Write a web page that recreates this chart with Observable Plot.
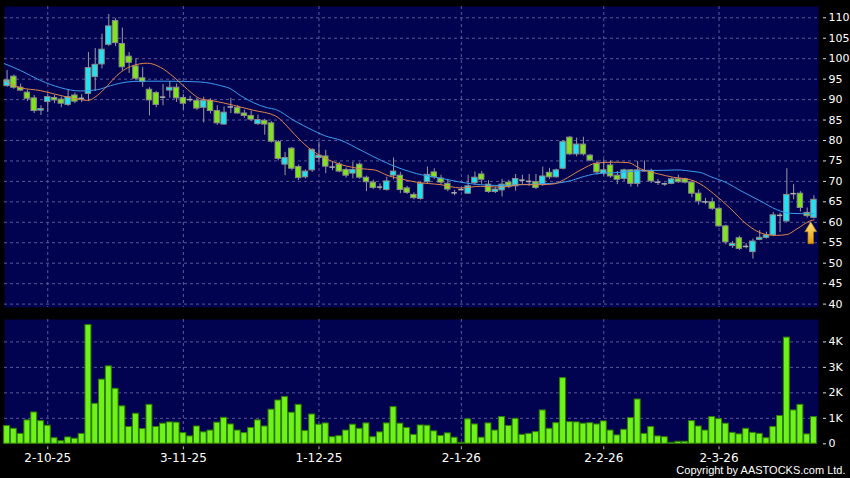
<!DOCTYPE html>
<html><head><meta charset="utf-8">
<script src="https://cdn.jsdelivr.net/npm/d3@7"></script>
<script src="https://cdn.jsdelivr.net/npm/@observablehq/plot@0.6"></script>
<style>
html,body{margin:0;padding:0;background:#000;}
#chart{position:relative;width:850px;height:478px;background:#000;overflow:hidden;}
#chart svg{position:absolute;left:0;}
</style></head><body><div id="chart"></div>
<script>
// ---- data ----
const open = [
 93.3,95.6,92.9,91.7,90.3,87.3,89.4,90.4,90.0,88.7,
 91.0,90.3,91.4,95.5,98.6,103.4,109.2,103.6,100.5,98.1,
 95.2,92.4,91.6,90.6,92.2,92.9,90.4,90.0,89.7,88.0,
 89.7,87.2,83.9,88.2,88.0,86.6,86.0,84.0,84.8,84.2,
 79.6,74.1,78.0,73.5,71.0,72.7,75.7,76.1,73.5,74.1,
 72.8,71.9,74.1,70.9,69.7,68.6,67.9,71.4,71.4,68.3,
 66.7,65.7,69.8,72.2,70.7,69.4,67.2,68.0,67.0,69.6,
 71.7,69.2,67.4,67.8,69.7,68.8,70.3,70.0,69.8,69.2,
 72.1,71.0,73.1,80.7,76.6,79.0,76.3,74.3,71.9,73.9,
 71.4,70.6,72.7,69.4,72.6,72.5,69.8,69.4,69.4,70.5,
 70.5,69.7,67.0,65.0,64.9,63.3,59.0,54.2,56.1,54.1,
 52.7,55.7,56.2,56.8,61.7,60.2,67.0,67.0,62.3,61.1];
const high = [
 97.1,96.0,93.8,92.3,91.0,88.5,91.4,91.0,90.6,92.4,
 91.6,91.2,101.5,102.5,106.0,110.8,109.8,107.5,101.5,100.0,
 97.8,92.9,92.0,93.7,94.4,93.8,91.2,90.8,90.3,90.6,
 90.2,88.5,88.2,90.3,88.5,87.4,87.2,86.2,85.2,84.6,
 80.0,77.1,78.3,74.0,72.8,78.0,79.6,77.6,74.8,74.6,
 73.3,74.7,74.5,71.3,70.3,69.4,71.0,75.7,72.2,68.8,
 67.2,69.8,73.5,73.1,71.5,70.5,67.8,68.4,71.5,72.3,
 72.4,70.2,68.5,70.5,70.3,71.7,71.5,71.7,71.7,73.5,
 73.2,73.0,80.0,81.0,80.6,80.8,76.6,75.0,75.3,75.0,
 72.4,73.0,72.9,74.9,75.0,73.0,70.5,69.6,70.8,71.5,
 70.8,70.1,67.9,65.8,65.9,63.6,59.3,55.3,56.6,54.8,
 55.9,58.0,57.6,62.4,62.2,73.1,69.2,67.5,63.5,66.5];
const low = [
 93.0,92.5,92.0,89.5,86.6,86.1,86.8,89.0,88.0,88.3,
 89.0,89.3,89.5,92.0,97.5,103.0,103.0,97.0,96.4,94.6,
 93.0,86.0,88.0,88.5,90.3,89.3,87.5,89.3,87.3,84.3,
 86.5,83.7,83.7,86.6,86.4,85.4,84.6,83.7,81.3,79.4,
 75.0,71.4,72.6,70.2,70.6,72.2,74.6,71.9,72.6,72.1,
 70.8,70.6,70.5,67.5,68.0,67.8,67.6,70.4,67.0,66.8,
 65.5,65.4,69.5,70.5,69.0,67.5,66.5,67.6,66.8,69.0,
 69.3,67.1,67.0,66.2,68.2,67.6,69.2,68.8,68.0,68.8,
 70.5,70.8,72.8,76.3,76.0,76.2,74.8,71.5,71.3,70.8,
 69.2,70.0,68.6,68.6,72.3,69.5,69.0,68.8,69.2,69.5,
 69.4,66.0,64.2,64.3,62.9,58.8,54.5,53.6,53.1,53.5,
 51.0,55.5,55.9,56.5,57.5,60.0,65.5,62.5,61.0,60.8];
const close = [
 94.7,92.9,92.2,90.2,87.2,87.7,90.6,89.8,89.0,90.6,
 89.5,90.3,97.7,98.5,102.2,107.9,103.8,97.9,99.0,95.1,
 94.3,89.8,88.7,90.6,92.9,90.3,89.0,90.0,87.8,89.7,
 87.2,84.2,86.8,88.2,86.6,86.0,85.1,85.0,83.9,79.7,
 75.5,75.7,73.1,70.8,72.4,77.7,76.3,73.6,73.5,72.4,
 71.4,72.8,70.9,69.8,68.4,68.6,70.0,72.4,67.9,67.2,
 65.9,69.4,71.6,71.0,69.7,68.0,67.2,68.0,68.8,70.9,
 70.4,67.4,68.0,69.2,68.6,70.6,70.3,70.0,68.4,71.2,
 71.0,72.7,79.6,76.6,79.0,76.6,75.1,72.2,72.7,71.2,
 70.4,72.7,69.4,72.7,72.6,70.0,69.8,69.4,70.5,69.8,
 69.7,67.0,65.1,65.0,63.3,59.0,55.1,54.7,53.5,54.1,
 55.3,56.2,56.8,61.7,61.7,66.7,67.0,63.5,61.5,65.5];
const volumeK = [
 0.70,0.59,0.39,0.92,1.23,0.89,0.71,0.22,0.10,0.25,
 0.20,0.39,4.66,1.57,2.52,3.04,2.16,1.47,0.66,1.18,
 0.58,1.53,0.66,0.79,0.84,0.83,0.42,0.29,0.68,0.45,
 0.52,0.83,1.02,0.76,0.52,0.42,0.62,0.92,0.68,1.34,
 1.70,1.84,1.22,1.53,0.50,1.15,0.75,0.80,0.26,0.30,
 0.52,0.75,0.59,0.80,0.26,0.45,0.80,1.44,0.79,0.62,
 0.35,0.72,0.71,0.49,0.31,0.41,0.24,0.04,0.96,0.76,
 0.24,0.80,0.52,1.05,0.70,0.98,0.35,0.39,0.46,1.31,
 0.59,0.81,2.58,0.85,0.84,0.79,0.81,0.76,0.88,0.52,
 0.33,0.55,1.01,1.74,0.39,0.66,0.29,0.26,0.04,0.08,
 0.08,0.89,0.68,0.52,1.05,0.97,0.79,0.43,0.37,0.59,
 0.43,0.39,0.22,0.66,1.09,4.17,1.31,1.53,0.37,1.05];
// short moving average (orange) and long moving average (blue), read at sample positions
const maShortIdx = [-0.4,2,4.9,6.9,8.9,10.8,11.9,13.3,14.8,16.2,18.2,20.7,22.6,24.6,26.6,28.5,30.4,33.4,36.3,39.6,41,42.4,44.4,46.3,49.3,52.2,54.2,56.2,58.1,60.4,63.9,66.9,69.8,72.8,75.7,78.7,80.7,82.1,84.5,87,89.4,91.6,93.4,95.9,98.3,100.8,102.2,104.2,106.6,109.1,111.5,113.5,115,116.5,118.4,119];
const maShortVal = [94.7,92.9,92.2,91.4,90.6,90.0,89.8,91.0,93.4,95.9,98.1,98.9,97.9,95.5,92.5,90.2,89.7,88.6,87.4,86.0,84.0,81.5,78.3,76.2,74.1,73.1,72.8,71.4,70.6,69.8,69.2,68.4,68.8,68.6,69.2,69.2,69.4,70.4,72.7,74.5,74.7,74.6,73.1,71.9,71.0,70.4,69.4,67.0,63.5,59.5,57.2,56.8,57.0,58.4,60.3,60.6];
const maLongIdx = [-0.4,2,4.9,7.9,10.8,13.3,15.25,17.7,19.7,23.6,28.5,31.5,32.9,34.4,38.4,39.6,42.3,45.2,46.8,49.3,52.2,55.2,58.1,60.4,63.9,66.9,69.8,72.8,75.7,78.7,81.2,83.2,84.5,87,89.4,91.9,94.4,96.8,98.8,101.3,102.2,103.7,106.2,108.1,111,113.5,115.5,118.4,119];
const maLongVal = [98.8,97.1,94.7,92.9,92.1,92.4,93.4,94.3,94.5,94.5,94.3,93.4,92.7,91.0,88.0,87.6,84.9,82.4,81.2,80.0,77.6,75.1,73.1,71.9,70.8,69.8,69.2,69.0,69.2,69.4,69.6,70.2,70.9,71.9,72.1,72.4,72.7,72.7,72.8,72.4,72.2,71.2,69.6,67.8,65.3,63.1,62.2,62.1,62.1];
const tickIndex = [6,26,46,67,88,105];
const tickLabels = ["2-10-25","3-11-25","1-12-25","2-1-26","2-2-26","2-3-26"];
const priceTicks = [40,45,50,55,60,65,70,75,80,85,90,95,100,105,110];
const volTicks = [0,1,2,3,4];
const volTickLabels = ["0","1K","2K","3K","4K"];
const signalIdx = [118.6];
const signalPrice = [60];
const copyright = "Copyright by AASTOCKS.com Ltd.";

// ---- styles ----
const NAVY = "#020350", GRID = "#5a5a98", WICK = "#9a9a9a", OUTLINE = "#8c8c8c";
const GREEN = "#80e31c", CYAN = "#22e2f0", VOL = "#6ef21a", VOLEDGE = "#2f7c00";
const ORANGE = "#e0834c", BLUE = "#3b9cf0";
const FONT = "'DejaVu Sans', sans-serif";

const candles = open.map((o, i) => ({i, o, h: high[i], l: low[i], c: close[i], v: volumeK[i]}));
const up = candles.filter(d => d.c > d.o);
const down = candles.filter(d => d.c < d.o);
const flat = candles.filter(d => d.c === d.o);
const maShort = maShortIdx.map((x, k) => ({x, v: maShortVal[k]}));
const maLong = maLongIdx.map((x, k) => ({x, v: maLongVal[k]}));
const signals = signalIdx.map((x, k) => ({x, p: signalPrice[k]}));
const xDomain = [-0.38, 119.67];
const HW = 0.4;

function arrowMark(index, scales) {
  const ns = "http://www.w3.org/2000/svg";
  const g = document.createElementNS(ns, "g");
  const defs = document.createElementNS(ns, "defs");
  defs.innerHTML = '<linearGradient id="arrowGrad" x1="0" y1="0" x2="0" y2="1"><stop offset="0" stop-color="#ffe27a"/><stop offset="1" stop-color="#e39a10"/></linearGradient>';
  g.appendChild(defs);
  for (const s of signals) {
    const cx = scales.x(s.x), ty = scales.y(s.p);
    const p = document.createElementNS(ns, "path");
    p.setAttribute("d", `M${cx},${ty} L${cx+6},${ty+10} L${cx+2.8},${ty+10} L${cx+2.8},${ty+22} L${cx-2.8},${ty+22} L${cx-2.8},${ty+10} L${cx-6},${ty+10} Z`);
    p.setAttribute("fill", "url(#arrowGrad)");
    p.setAttribute("stroke", "#b07800");
    p.setAttribute("stroke-width", "0.6");
    g.appendChild(p);
  }
  return g;
}

const price = Plot.plot({
  width: 850, height: 313,
  marginLeft: 4, marginRight: 32, marginTop: 6, marginBottom: 6,
  x: {domain: xDomain, axis: null},
  y: {domain: [39.17, 112.76], axis: null},
  style: {background: "transparent", color: "#fff", fontFamily: FONT, fontSize: "11px", overflow: "visible"},
  marks: [
    Plot.frame({fill: NAVY, stroke: null}),
    Plot.gridY(priceTicks, {stroke: GRID, strokeOpacity: 1, strokeDasharray: "3,3"}),
    Plot.gridX(tickIndex, {stroke: GRID, strokeOpacity: 1, strokeDasharray: "3,3"}),
    Plot.ruleX(candles, {x: "i", y1: "l", y2: "h", stroke: WICK, strokeWidth: 1}),
    Plot.rect(up, {x1: d => d.i - HW, x2: d => d.i + HW, y1: "o", y2: "c", fill: CYAN, stroke: OUTLINE, strokeWidth: 1}),
    Plot.rect(down, {x1: d => d.i - HW, x2: d => d.i + HW, y1: "o", y2: "c", fill: GREEN, stroke: OUTLINE, strokeWidth: 1}),
    Plot.ruleY(flat, {x1: d => d.i - HW, x2: d => d.i + HW, y: "c", stroke: "#b0b0b0", strokeWidth: 1.5}),
    Plot.line(maLong, {x: "x", y: "v", stroke: BLUE, strokeWidth: 1, curve: "monotone-x"}),
    Plot.line(maShort, {x: "x", y: "v", stroke: ORANGE, strokeWidth: 1, curve: "monotone-x"}),
    arrowMark,
    Plot.axisY(priceTicks, {anchor: "right", label: null, tickSize: 3, tickPadding: 3, dx: 4, stroke: "#ddd", fill: "#fff", fontSize: 11})
  ]
});
price.style.top = "0px";

const volume = Plot.plot({
  width: 850, height: 165,
  marginLeft: 4, marginRight: 32, marginTop: 6, marginBottom: 34.7,
  x: {domain: xDomain, axis: null},
  y: {domain: [0, 4.88], axis: null},
  style: {background: "transparent", color: "#fff", fontFamily: FONT, fontSize: "11px", overflow: "visible"},
  marks: [
    Plot.frame({fill: NAVY, stroke: null}),
    Plot.gridY(volTicks.slice(1), {stroke: GRID, strokeOpacity: 1, strokeDasharray: "3,3"}),
    Plot.gridX(tickIndex, {stroke: GRID, strokeOpacity: 1, strokeDasharray: "3,3"}),
    Plot.rect(candles, {x1: d => d.i - 0.44, x2: d => d.i + 0.44, y1: 0, y2: "v", fill: VOL, stroke: VOLEDGE, strokeWidth: 1}),
    Plot.axisY(volTicks, {anchor: "right", label: null, tickSize: 3, tickPadding: 3, dx: 4, stroke: "#ddd", fill: "#fff", fontSize: 11,
      tickFormat: d => volTickLabels[volTicks.indexOf(d)]}),
    Plot.axisX(tickIndex, {anchor: "bottom", label: null, tickSize: 3, tickPadding: 4, dy: 3, stroke: "#bbb", fill: "#fff", fontSize: 12,
      tickFormat: d => tickLabels[tickIndex.indexOf(d)]}),
    Plot.text([copyright], {frameAnchor: "bottom-right", dx: 27, dy: 27, textAnchor: "end", lineAnchor: "middle", fill: "#fff",
      fontSize: 11, fontFamily: "'Liberation Sans', Arial, sans-serif"})
  ]
});
volume.style.top = "313px";

const root = document.getElementById("chart");
root.appendChild(price);
root.appendChild(volume);
</script></body></html>
